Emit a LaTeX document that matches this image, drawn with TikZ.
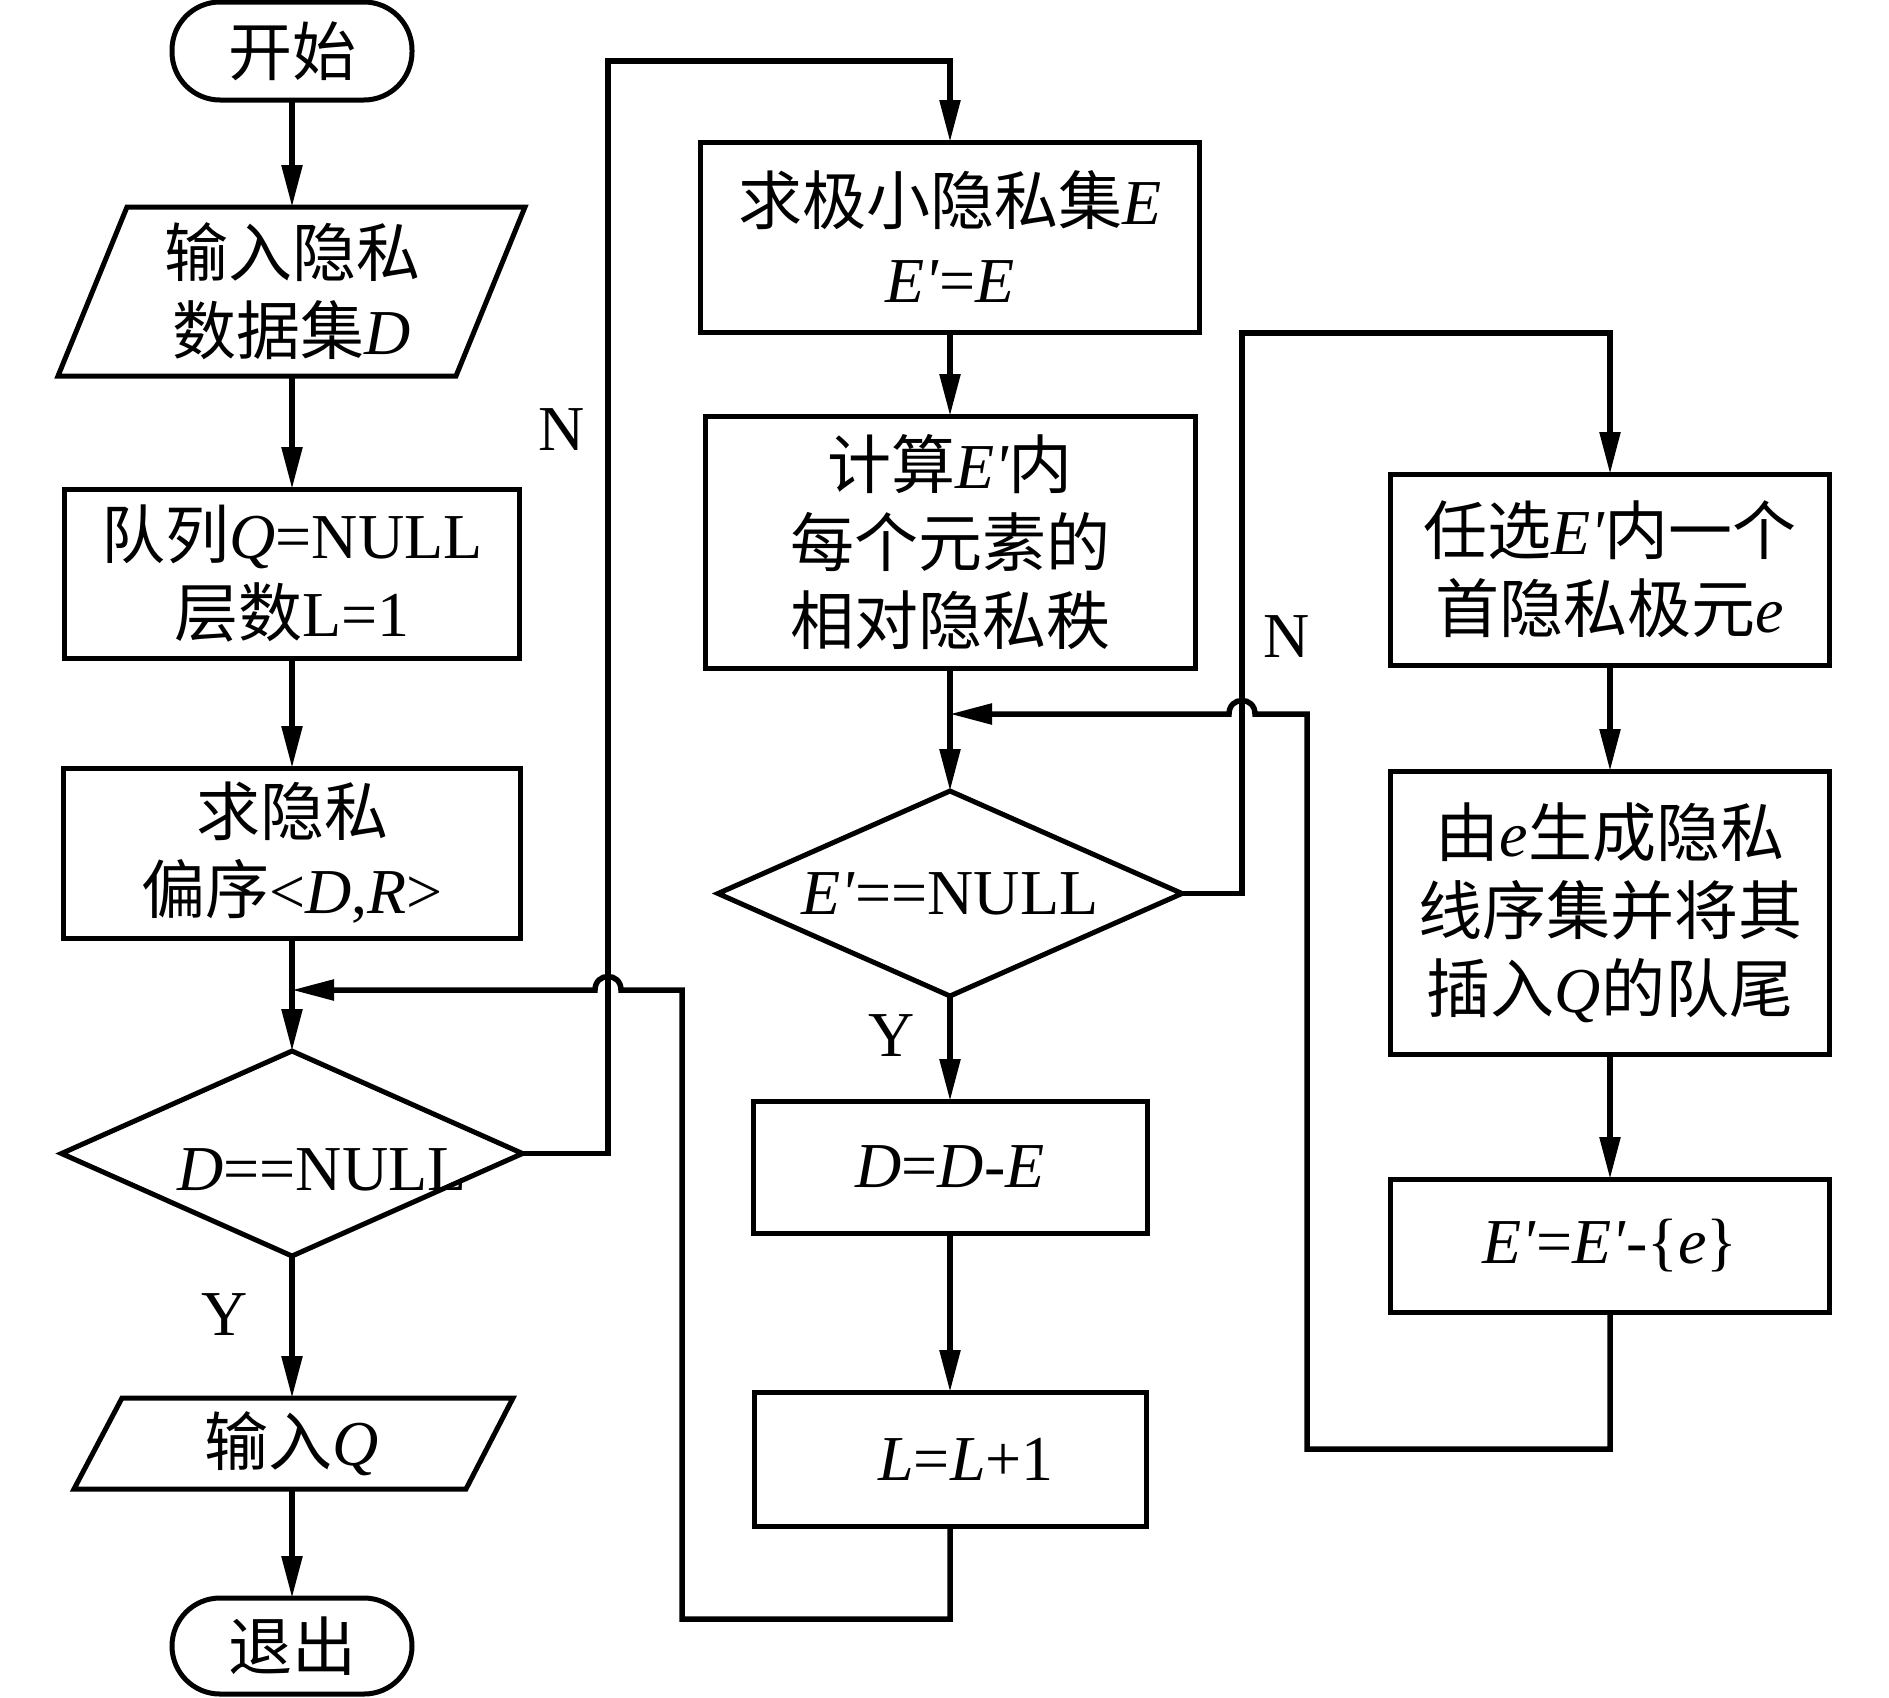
\documentclass[tikz,border=0pt]{standalone}
\usepackage{fontspec}
\setmainfont{Liberation Serif}
\newfontfamily\cjk{Noto Sans CJK SC}
\usetikzlibrary{arrows.meta,shapes.geometric}
\newcommand{\zh}[1]{{\cjk #1}}
\newcommand{\ip}{\textquotesingle}
\begin{document}
\begin{tikzpicture}[x=1pt,y=-1pt,
  every node/.style={font=\fontsize{64}{78}\selectfont, inner sep=0pt, outer sep=0pt},
  blk/.style={draw, line width=5pt, rectangle, align=center},
  term/.style={draw, line width=5pt, rectangle, rounded corners=48pt, align=center},
  ghost/.style={rectangle, align=center},
  diam/.style={draw, line width=5pt, diamond, aspect=2.26},
  shp/.style={line width=5pt, line join=miter},
  conn/.style={line width=5.5pt},
  arr/.style={conn, -{Triangle[length=42pt,width=20pt]}},
  lbl/.style={font=\fontsize{64}{78}\selectfont}
]
\useasboundingbox (0,0) rectangle (1889,1697);

% left column
\node[term, minimum width=240pt, minimum height=98pt] (start) at (292,51) {\zh{开始}};
\node[ghost, minimum width=398pt, minimum height=169pt] (in) at (292,291.5) {\zh{输入隐私}\\\zh{数据集}\textit{D}};
\draw[shp] (127,207) -- (525,207) -- (456,376) -- (58,376) -- cycle;
\node[blk, minimum width=455pt, minimum height=169pt] (q) at (292,573.5) {\zh{队列}\textit{Q}=NULL\\\zh{层数}L=1};
\node[blk, minimum width=457pt, minimum height=170pt] (po) at (292,853) {\zh{求隐私}\\\zh{偏序}<\textit{D},\textit{R}>};
\node[diam, minimum width=461pt, minimum height=205pt] (d1) at (292,1153.5) {};
\node (d1t) at (322,1170) {\textit{D}==NULL};
\node[ghost, minimum width=391pt, minimum height=91pt] (oq) at (292,1443.5) {\zh{输入}\textit{Q}};
\draw[shp] (122,1398) -- (513,1398) -- (466,1489) -- (74,1489) -- cycle;
\node[term, minimum width=240pt, minimum height=96pt] (exit) at (292,1646) {\zh{退出}};

% middle column
\node[blk, minimum width=499pt, minimum height=190pt] (e1) at (950,237) {\zh{求极小隐私集}\textit{E}\\\textit{E\ip}=\textit{E}};
\node[blk, minimum width=490pt, minimum height=252pt] (e2) at (950,542) {\zh{计算}\textit{E\ip}\zh{内}\\\zh{每个元素的}\\\zh{相对隐私秩}};
\node[diam, minimum width=464pt, minimum height=205pt] (d2) at (950,893.5) {};
\node (d2t) at (950,893.5) {\textit{E\ip}==NULL};
\node[blk, minimum width=394pt, minimum height=132pt] (dde) at (950,1167) {\textit{D}=\textit{D}-\textit{E}};
\node[blk, minimum width=392pt, minimum height=134pt] (ll) at (950,1459) {\hspace*{32pt}\textit{L}=\textit{L}+1};

% right column
\node[blk, minimum width=439pt, minimum height=191pt] (r1) at (1610,569.5) {\zh{任选}\textit{E\ip}\zh{内一个}\\\zh{首隐私极元}\textit{e}};
\node[blk, minimum width=439pt, minimum height=283pt] (r2) at (1610,912.5) {\zh{由}\textit{e}\zh{生成隐私}\\\zh{线序集并将其}\\\zh{插入}\textit{Q}\zh{的队尾}};
\node[blk, minimum width=439pt, minimum height=133pt] (r3) at (1610,1245.5) {\textit{E\ip}=\textit{E\ip}-\{\textit{e}\}};

% helper coordinates
\coordinate (m1) at (292,990);
\coordinate (m2) at (950,714);
\coordinate (c1) at (608,61);
\coordinate (c2) at (1242,333);
\coordinate (c3) at (682,1619);
\coordinate (c4) at (1307,1449);

% connectors
\draw[arr] (start.south) -- (in.north);
\draw[arr] (in.south) -- (q.north);
\draw[arr] (q.south) -- (po.north);
\draw[arr] (po.south) -- (d1.north);
\draw[arr] (d1.south) -- (oq.north);
\draw[arr] (oq.south) -- (exit.north);
\draw[arr] (d1.east) -| (c1) -| (e1.north);
\draw[arr] (e1.south) -- (e2.north);
\draw[arr] (e2.south) -- (d2.north);
\draw[arr] (d2.south) -- (dde.north);
\draw[arr] (dde.south) -- (ll.north);
\draw[arr] (d2.east) -| (c2) -| (r1.north);
\draw[arr] (r1.south) -- (r2.north);
\draw[arr] (r2.south) -- (r3.north);
\draw[arr] (ll.south) |- (c3) -- (682,990) -- (621,990) .. controls (621,972) and (595,972) .. (595,990) -- (m1);
\draw[arr] (r3.south) |- (c4) -- (1307,714) -- (1255,714) .. controls (1255,696) and (1229,696) .. (1229,714) -- (m2);

% labels
\node[lbl] (nl) at (562,430) {N};
\node[lbl] (nr) at (1287,637) {N};
\node[lbl] (yl) at (225,1315) {Y};
\node[lbl] (ym) at (892,1036) {Y};
\end{tikzpicture}
\end{document}
